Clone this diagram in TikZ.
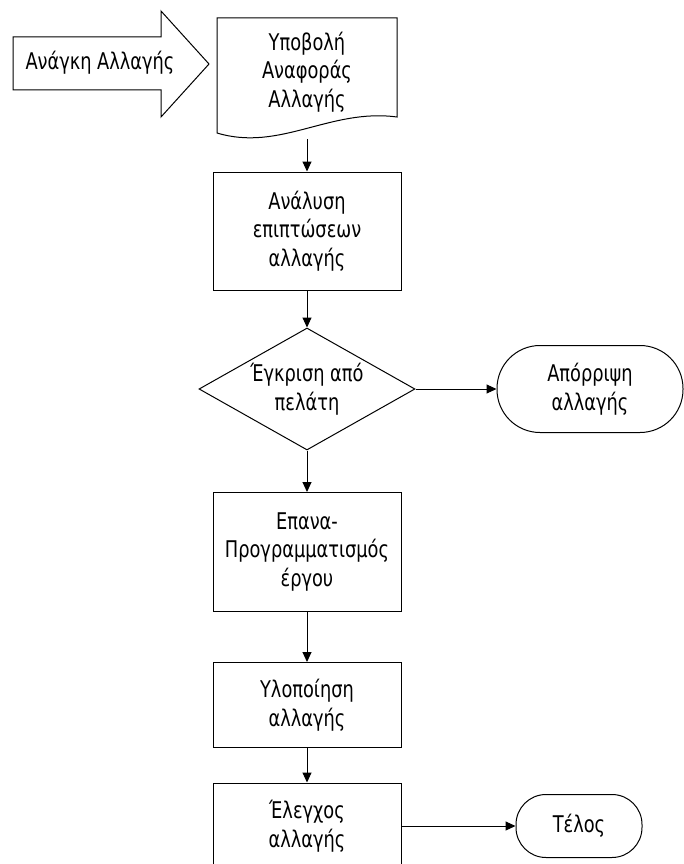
\documentclass[tikz,border=0pt]{standalone}
\usepackage{fontspec}
\setmainfont[FakeStretch=0.86]{DejaVu Sans Condensed}
\usetikzlibrary{arrows.meta,shapes.geometric}
\begin{document}
\begin{tikzpicture}[x=1pt,y=-1pt,
  line width=1pt,
  every node/.style={font=\fontsize{23}{28.5}\selectfont, align=center, inner sep=0pt},
  proc/.style={draw, rectangle, minimum width=188pt},
  term/.style={draw, rectangle},
  decision/.style={draw, diamond, minimum width=216pt, minimum height=122pt, aspect=1.77},
  flow/.style={-{Triangle[length=10pt,width=9pt]}}
]
\useasboundingbox (0,0) rectangle (684,864);

% incoming block arrow
\draw (13,37) -- (161,37) -- (161,11) -- (209,64) -- (161,117) -- (161,90) -- (13,90) -- cycle;
\node (need) at (100,63) {Ανάγκη Αλλαγής};

% document shape with wavy bottom edge
\draw (217,18) -- (397,18) -- (397,117)
  .. controls (330,108) and (280,152) .. (217,133) -- cycle;
\node (report) at (307,72) {Υποβολή\\Αναφοράς\\Αλλαγής};
\coordinate (reportbot) at (307,139);

\node[proc, minimum height=118pt] (analysis) at (307,231) {Ανάλυση\\επιπτώσεων\\αλλαγής};
\node[decision] (approve) at (307,389) {Έγκριση από\\πελάτη};
\node[term, minimum width=186pt, minimum height=87pt, rounded corners=43pt] (reject) at (590,389) {Απόρριψη\\αλλαγής};
\node[proc, minimum height=119pt] (resched) at (307,552) {Επανα-\\Προγραμματισμός\\έργου};
\node[proc, minimum height=85pt] (impl) at (307,705) {Υλοποίηση\\αλλαγής};
\node[proc, minimum height=86pt] (check) at (307,826) {Έλεγχος\\αλλαγής};
\node[term, minimum width=126pt, minimum height=63pt, rounded corners=30pt] (finish) at (579,826) {Τέλος};

\draw[flow] (reportbot) -- (analysis.north);
\draw[flow] (analysis.south) -- (approve.north);
\draw[flow] (approve.east) -- (reject.west);
\draw[flow] (approve.south) -- (resched.north);
\draw[flow] (resched.south) -- (impl.north);
\draw[flow] (impl.south) -- (check.north);
\draw[flow] (check.east) -- (finish.west);
\end{tikzpicture}
\end{document}
